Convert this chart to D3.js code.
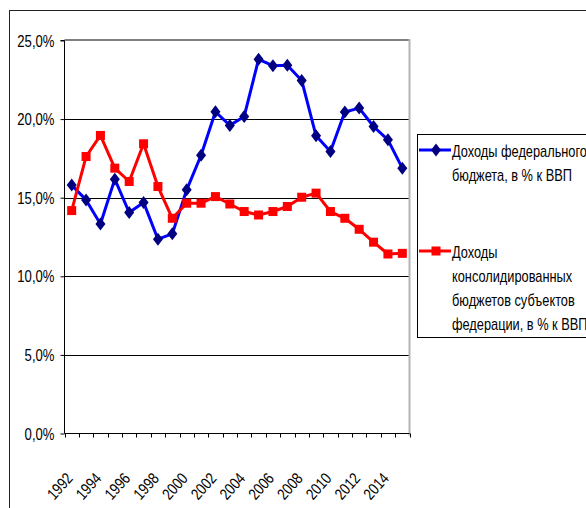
<!DOCTYPE html>
<html>
<head>
<meta charset="utf-8">
<script src="https://cdn.jsdelivr.net/npm/d3@7"></script>
<style>
  html, body { margin: 0; padding: 0; background: #fff; }
  svg { display: block; }
  text { font-family: "Liberation Sans", Arial, sans-serif; fill: #000; font-weight: normal; }
</style>
</head>
<body>
<svg id="chart" width="586" height="508"></svg>
<script>
const years = [1992,1993,1994,1995,1996,1997,1998,1999,2000,2001,2002,2003,2004,2005,2006,2007,2008,2009,2010,2011,2012,2013,2014,2015];
const federal = [15.8,14.86,13.33,16.18,14.06,14.7,12.36,12.7,15.5,17.7,20.47,19.6,20.17,23.8,23.4,23.42,22.46,18.94,17.94,20.45,20.7,19.53,18.68,16.88];
const regional = [14.18,17.62,18.96,16.88,16.03,18.43,15.71,13.69,14.65,14.65,15.07,14.6,14.12,13.9,14.12,14.44,15.03,15.29,14.12,13.69,12.99,12.17,11.42,11.46];
const yTicks = [0,5,10,15,20,25];
const xTickLabels = [1992,1994,1996,1998,2000,2002,2004,2006,2008,2010,2012,2014];
const seriesNames = [
  ["Доходы федерального", "бюджета, в % к ВВП"],
  ["Доходы", "консолидированных", "бюджетов субъектов", "федерации, в % к ВВП"]
];

const NARROW = 0.82;
const svg = d3.select("#chart");
const L = 64.5, R = 409.5, T = 40.5, B = 433.5;

const x = d3.scaleBand().domain(years).range([L, R]).padding(0);
const y = d3.scaleLinear().domain([0, 25]).range([B, T]);
const cx = d => x(d) + x.bandwidth() / 2;

// outer chart border
svg.append("rect").attr("x", 9.5).attr("y", 10.5).attr("width", 700).attr("height", 600)
  .attr("fill", "none").attr("stroke", "#222").attr("stroke-width", 1);

// gridlines
svg.append("g").selectAll("line").data(yTicks.filter(v => v > 0 && v < 25)).join("line")
  .attr("x1", L).attr("x2", R).attr("y1", d => Math.round(y(d)) + 0.5).attr("y2", d => Math.round(y(d)) + 0.5)
  .attr("stroke", "#000").attr("stroke-width", 1);

// plot border top and right
svg.append("line").attr("x1", L).attr("x2", R).attr("y1", T - 0.5).attr("y2", T - 0.5)
  .attr("stroke", "#808080").attr("stroke-width", 2);
svg.append("line").attr("x1", R).attr("x2", R).attr("y1", T - 1.5).attr("y2", B + 2)
  .attr("stroke", "#b4b4b4").attr("stroke-width", 2);

// y axis
const yAxis = d3.axisLeft(y).tickValues(yTicks).tickSize(4).tickPadding(6)
  .tickFormat(d => d3.format(".1f")(d).replace(".", ",") + "%");
const gy = svg.append("g").attr("transform", `translate(${L},0)`).call(yAxis);
gy.select(".domain").attr("stroke", "#000").attr("d", `M-4,${T}H0V${B}`);
gy.selectAll(".tick line").attr("stroke", "#000");
gy.selectAll(".tick text")
  .attr("font-size", 16).attr("font-family", null).attr("dy", "0.35em")
  .attr("x", null)
  .attr("transform", `translate(-10,0) scale(${NARROW},1)`);

// x axis
svg.append("line").attr("x1", L).attr("x2", R).attr("y1", B).attr("y2", B).attr("stroke", "#000");
const boundaries = years.map(d => x(d)).concat([x(years[years.length - 1]) + x.bandwidth()]);
svg.append("g").selectAll("line").data(boundaries).join("line")
  .attr("x1", d => Math.round(d) + 0.5).attr("x2", d => Math.round(d) + 0.5)
  .attr("y1", B).attr("y2", B + 4).attr("stroke", "#000");
svg.append("g").selectAll("text").data(xTickLabels).join("text")
  .attr("transform", d => `translate(${cx(d) + 2},${479}) rotate(-48) scale(${NARROW},1)`)
  .attr("text-anchor", "end").attr("font-size", 16).text(d => d);

// lines
const line = vals => d3.line().x((d, i) => cx(years[i])).y(d => y(d))(vals);
svg.append("path").attr("d", line(federal)).attr("fill", "none")
  .attr("stroke", "#0000ff").attr("stroke-width", 3).attr("stroke-linejoin", "round");
svg.append("g").selectAll("path").data(federal).join("path")
  .attr("d", (d, i) => { const px = cx(years[i]), py = y(d); return `M${px},${py - 6.5}L${px + 5},${py}L${px},${py + 6.5}L${px - 5},${py}Z`; })
  .attr("fill", "#000080");

svg.append("path").attr("d", line(regional)).attr("fill", "none")
  .attr("stroke", "#ff0000").attr("stroke-width", 3).attr("stroke-linejoin", "round");
svg.append("g").selectAll("rect").data(regional).join("rect")
  .attr("x", (d, i) => cx(years[i]) - 4.5).attr("y", d => y(d) - 4.5)
  .attr("width", 9).attr("height", 9).attr("fill", "#ff0000");

// legend
const LN = 0.8;
const lg = svg.append("g");
lg.append("rect").attr("x", 417.5).attr("y", 134.5).attr("width", 200).attr("height", 203)
  .attr("fill", "#fff").attr("stroke", "#000").attr("stroke-width", 1);
// entry 1
lg.append("line").attr("x1", 419).attr("x2", 451).attr("y1", 150).attr("y2", 150)
  .attr("stroke", "#0000ff").attr("stroke-width", 3);
lg.append("path").attr("d", "M436,143.5L441,150L436,156.5L431,150Z").attr("fill", "#000080");
lg.append("g").selectAll("text").data(seriesNames[0]).join("text")
  .attr("transform", (d, i) => `translate(452,${157 + i * 24}) scale(${LN},1)`)
  .attr("font-size", 16).text(d => d);
// entry 2
lg.append("line").attr("x1", 419).attr("x2", 451).attr("y1", 251).attr("y2", 251)
  .attr("stroke", "#ff0000").attr("stroke-width", 3);
lg.append("rect").attr("x", 431.5).attr("y", 246.5).attr("width", 9).attr("height", 9).attr("fill", "#ff0000");
lg.append("g").selectAll("text").data(seriesNames[1]).join("text")
  .attr("transform", (d, i) => `translate(452,${258 + i * 24}) scale(${LN},1)`)
  .attr("font-size", 16).text(d => d);
</script>
</body>
</html>
